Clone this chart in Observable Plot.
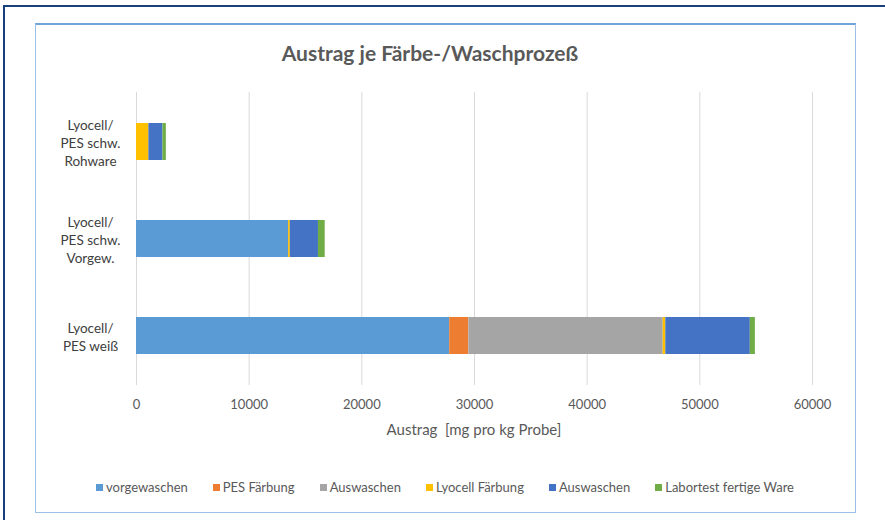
<!DOCTYPE html>
<html>
<head>
<meta charset="utf-8">
<script src="https://cdn.jsdelivr.net/npm/d3@7"></script>
<script src="https://cdn.jsdelivr.net/npm/@observablehq/plot@0.6"></script>
<style>
  html, body { margin: 0; padding: 0; background: #fff; }
  body { width: 885px; height: 520px; position: relative; overflow: hidden; font-family: Lato, "Open Sans", sans-serif; }
  #frame { position: absolute; left: 3px; top: 5px; width: 890px; height: 520px; border-top: 2px solid #173f7c; border-left: 2px solid #173f7c; }
  #box { position: absolute; left: 35px; top: 23px; width: 819px; height: 487px; border: 1px solid #9dc0e6; border-top: 2px solid #6fa5dc; background: #fff; }
  #title { position: absolute; left: 0; top: 40px; width: 860px; text-align: center; font-size: 21px; font-weight: bold; color: #595959; }
  #plot { position: absolute; left: 35px; top: 24px; }
  #xlabel { position: absolute; left: 136px; width: 676px; top: 420px; text-align: center; font-size: 15px; color: #595959; }
  #legend { position: absolute; left: 35px; width: 820px; top: 479px; display: flex; justify-content: center; gap: 25px; font-size: 13px; color: #595959; }
  #legend span.item { display: flex; align-items: center; white-space: nowrap; }
  #legend span.sw { display: inline-block; width: 7px; height: 7px; margin-right: 3px; }
</style>
</head>
<body>
<div id="frame"></div>
<div id="box"></div>
<div id="title">Austrag je Färbe-/Waschprozeß</div>
<div id="plot"></div>
<div id="xlabel">Austrag&nbsp; [mg pro kg Probe]</div>
<div id="legend"></div>
<script>
// Categories (top to bottom) and their multi-line labels
const categories = ["Rohware", "Vorgew", "Weiss"];
const categoryLabels = ["Lyocell/\nPES schw.\nRohware", "Lyocell/\nPES schw.\nVorgew.", "Lyocell/\nPES weiß"];

// Series (stack order) and legend labels
const seriesKeys = ["vorgewaschen", "PES Färbung", "Auswaschen 1", "Lyocell Färbung", "Auswaschen 2", "Labortest fertige Ware"];
const seriesLabels = ["vorgewaschen", "PES Färbung", "Auswaschen", "Lyocell Färbung", "Auswaschen", "Labortest fertige Ware"];
const seriesColors = ["#5b9bd5", "#ed7d31", "#a5a5a5", "#ffc000", "#4472c4", "#70ad47"];

// Values per series, aligned with categories
const vorgewaschen = [0, 13500, 27800];
const pesFaerbung = [0, 0, 1700];
const auswaschen1 = [0, 0, 17250];
const lyocellFaerbung = [1100, 150, 230];
const auswaschen2 = [1250, 2500, 7500];
const labortest = [300, 600, 450];

const xTicks = [0, 10000, 20000, 30000, 40000, 50000, 60000];

const seriesValues = [vorgewaschen, pesFaerbung, auswaschen1, lyocellFaerbung, auswaschen2, labortest];
const data = [];
seriesKeys.forEach((s, i) => categories.forEach((c, j) => data.push({cat: c, series: s, value: seriesValues[i][j]})));

const W = 820, H = 420;
const chart = Plot.plot({
  width: W,
  height: H,
  marginLeft: 101,
  marginRight: 43,
  marginTop: 68,
  marginBottom: H - 361,
  style: {fontFamily: "Lato, 'Open Sans', sans-serif", fontSize: "13px", color: "#595959", background: "transparent"},
  x: {domain: [0, 60000], ticks: xTicks, grid: false, label: null},
  y: {domain: categories, paddingInner: 0.62, paddingOuter: 0.31, label: null, axis: null},
  color: {domain: seriesKeys, range: seriesColors},
  marks: [
    Plot.ruleX(xTicks, {x: d => d, stroke: "#d9d9d9", strokeWidth: 1}),
    Plot.barX(data, Plot.stackX({y: "cat", x: "value", fill: "series", order: seriesKeys})),
    Plot.axisX({ticks: xTicks, tickSize: 0, tickPadding: 14, tickFormat: d => String(d), label: null, fontSize: 13, fill: "#595959"}),
    Plot.text(categories, {y: d => d, text: (d, i) => categoryLabels[i], frameAnchor: "left", dx: -46, textAnchor: "middle", lineHeight: 1.35, fontSize: 13.5, fill: "#404040"})
  ]
});
document.getElementById("plot").appendChild(chart);

const legend = document.getElementById("legend");
seriesKeys.forEach((k, i) => {
  const item = document.createElement("span");
  item.className = "item";
  const sw = document.createElement("span");
  sw.className = "sw";
  sw.style.background = seriesColors[i];
  item.appendChild(sw);
  item.appendChild(document.createTextNode(seriesLabels[i]));
  legend.appendChild(item);
});
</script>
</body>
</html>
